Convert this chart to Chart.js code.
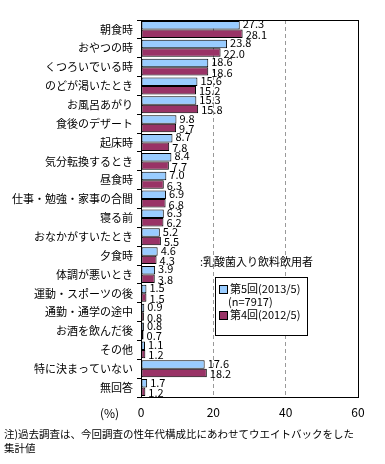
<!DOCTYPE html>
<html>
<head>
<meta charset="utf-8">
<script src="https://cdn.jsdelivr.net/npm/chart.js@4"></script>
<style>
  body { margin: 0; background: #fff; }
  #wrap { position: relative; width: 385px; height: 464px; font-family: "Noto Sans CJK JP", sans-serif; color: #000; }
  canvas { position: absolute; left: 0; top: 0; }
  .t { position: absolute; font-size: 11px; white-space: nowrap; line-height: 1; }
  #legend { position: absolute; left: 215px; top: 277px; width: 93px; height: 59px; border: 1px solid #000; background: #fff; box-sizing: border-box; }
  .sw { display: inline-block; width: 7px; height: 7px; border: 1px solid #000; margin-right: 2px; vertical-align: -1px; }
</style>
</head>
<body>
<div id="wrap">
  <canvas id="chart" width="385" height="464"></canvas>
  <div class="t" style="left:200px; top:256px; font-size:11px;">:乳酸菌入り飲料飲用者</div>
  <div id="legend">
    <div class="t" style="left:3px; top:5px;"><span class="sw" style="background:#99ccff"></span>第5回(2013/5)</div>
    <div class="t" style="left:12px; top:18px;">(n=7917)</div>
    <div class="t" style="left:3px; top:31px;"><span class="sw" style="background:#993366"></span>第4回(2012/5)</div>
  </div>
  <div class="t" style="left:100px; top:407px; font-size:12px;">(%)</div>
  <div class="t" style="left:4px; top:429px; font-size:10.5px;">注)過去調査は、今回調査の性年代構成比にあわせてウエイトバックをした</div>
  <div class="t" style="left:4px; top:443px; font-size:10.5px;">集計値</div>
</div>
<script>
// 利用シーン
const categories = ["朝食時", "おやつの時", "くつろいでいる時", "のどが渇いたとき", "お風呂あがり",
  "食後のデザート", "起床時", "気分転換するとき", "昼食時", "仕事・勉強・家事の合間", "寝る前",
  "おなかがすいたとき", "夕食時", "体調が悪いとき", "運動・スポーツの後", "通勤・通学の途中",
  "お酒を飲んだ後", "その他", "特に決まっていない", "無回答"];
const dai5 = [27.3, 23.8, 18.6, 15.6, 15.3, 9.8, 8.7, 8.4, 7.0, 6.9, 6.3, 5.2, 4.6, 3.9, 1.5, 0.9, 0.8, 1.1, 17.6, 1.7];
const dai4 = [28.1, 22.0, 18.6, 15.2, 15.8, 9.7, 7.8, 7.7, 6.3, 6.8, 6.2, 5.5, 4.3, 3.8, 1.5, 0.8, 0.7, 1.2, 18.2, 1.2];
const xTicks = [0, 20, 40, 60];

const fontJP = "'Noto Sans CJK JP', sans-serif";

// 枠線
const frame = {
  id: 'frame',
  afterDraw(chart) {
    const a = chart.chartArea, c = chart.ctx;
    c.save();
    c.strokeStyle = '#000';
    c.lineWidth = 1;
    c.strokeRect(Math.round(a.left) + 0.5, Math.round(a.top) + 0.5, Math.round(a.right - a.left), Math.round(a.bottom - a.top));
    c.restore();
  }
};

// 数値ラベル
const valueLabels = {
  id: 'valueLabels',
  afterDatasetsDraw(chart) {
    const c = chart.ctx;
    c.save();
    c.font = '11px ' + fontJP;
    c.fillStyle = '#000';
    c.textBaseline = 'middle';
    chart.data.datasets.forEach((ds, i) => {
      chart.getDatasetMeta(i).data.forEach((bar, j) => {
        c.fillText(ds.data[j].toFixed(1), bar.x + 3, bar.y + (i === 0 ? -1 : 1));
      });
    });
    c.restore();
  }
};

new Chart(document.getElementById('chart'), {
  type: 'bar',
  data: {
    labels: categories,
    datasets: [{
      label: '第5回(2013/5)',
      data: dai5,
      backgroundColor: '#99ccff',
      borderColor: '#000',
      borderWidth: 1,
      borderSkipped: false
    }, {
      label: '第4回(2012/5)',
      data: dai4,
      backgroundColor: '#993366',
      borderColor: '#000',
      borderWidth: 1,
      borderSkipped: false
    }]
  },
  options: {
    indexAxis: 'y',
    responsive: false,
    animation: false,
    layout: { padding: { top: 20, right: 27, bottom: 43, left: 0 } },
    datasets: { bar: { categoryPercentage: 0.9, barPercentage: 1.0 } },
    plugins: {
      legend: { display: false },
      tooltip: { enabled: false }
    },
    scales: {
      x: {
        min: 0, max: 60,
        afterBuildTicks: s => { s.ticks = xTicks.map(v => ({ value: v })); },
        afterFit: s => { s.height = 24; },
        grid: {
          color: ctx => (ctx.tick && (ctx.tick.value === 20 || ctx.tick.value === 40)) ? '#999' : 'rgba(0,0,0,0)',
          tickLength: 0,
          drawTicks: false
        },
        border: { display: false, dash: [4, 3] },
        ticks: { color: '#000', font: { size: 12, family: fontJP }, padding: 8 }
      },
      y: {
        afterFit: s => { s.width = 141; },
        border: { display: false },
        grid: { drawOnChartArea: false, tickLength: 4, color: '#000', offset: true },
        ticks: { color: '#000', font: { size: 11, family: fontJP }, padding: 4, autoSkip: false }
      }
    }
  },
  plugins: [frame, valueLabels]
});
</script>
</body>
</html>
